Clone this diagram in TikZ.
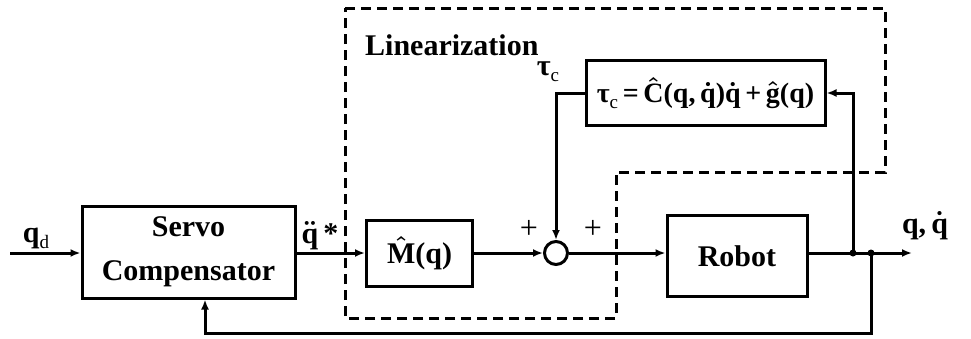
\documentclass[tikz,border=0pt]{standalone}
\usepackage{fontspec}
\setmainfont{Liberation Serif}
\usepackage{tikz}
\usetikzlibrary{arrows.meta}
\newcommand{\lowsub}[1]{\raisebox{-0.45ex}{\mdseries\fontsize{9.5}{10}\selectfont #1}}
\newcommand{\vdot}[1]{\ensuremath{\dot{\mbox{#1}}}}
\newcommand{\vddot}[1]{\ensuremath{\ddot{\mbox{#1}}}}
\newcommand{\vhat}[1]{\ensuremath{\hat{\mbox{#1}}}}

\begin{document}
\begin{tikzpicture}[x=0.5pt, y=-0.5pt, line width=1.5pt, >={Latex[length=5pt,width=4pt]},
    every node/.style={font=\bfseries\boldmath\fontsize{15}{22}\selectfont},
    block/.style={draw, align=center, inner sep=0pt},
    sumnode/.style={draw, circle, minimum size=11.5pt, inner sep=0pt},
    splitdot/.style={fill, circle, minimum size=3.5pt, inner sep=0pt},
    region/.style={dash pattern=on 5pt off 3pt}]
    \useasboundingbox (0,0) rectangle (971,338);
    \node[block, minimum width=106.5pt, minimum height=46pt] (servo) at (188.5,252) {Servo\\Compensator};
    \node[block, minimum width=53pt, minimum height=33pt] (mhat) at (419.5,253) {\vhat{M}(q)};
    \node[sumnode] (sum) at (556,253) {};
    \node[block, minimum width=70pt, minimum height=40.5pt] (robot) at (737,256) {Robot};
    \node[block, minimum width=119.5pt, minimum height=32.5pt, font=\bfseries\boldmath\fontsize{14}{16}\selectfont] (taubox) at (705.5,93) {τ\lowsub{c}\,=\,\vhat{C}(q,\,\vdot{q})\vdot{q}\,+\,\vhat{g}(q)};
    \coordinate (input) at (10,253);
    \coordinate (split1) at (853,253);
    \coordinate (split2) at (871,253);
    \coordinate (output) at (912,253);
    \coordinate (fbcorner) at (205,333);
    \draw[->] (input) -- (input -| servo.west);
    \draw[->] (servo.east |- sum) -- (mhat.west);
    \draw[->] (mhat.east) -- (sum.west);
    \draw[->] (sum.east) -- (sum -| robot.west);
    \draw[->] (sum -| robot.east) -- (output);
    \draw[->] (split1) |- (taubox.east);
    \draw[->] (taubox.west) -| (sum.north);
    \draw[->] (split2) |- (fbcorner) -- (fbcorner |- servo.south);
    \node[splitdot] (dot1) at (split1) {};
    \node[splitdot] (dot2) at (split2) {};
    \node (qdlabel) at (36,238) {q\lowsub{d}};
    \node (qddlabel) at (320,236) {\vddot{q}\,*};
    \node (taulabel) at (548,72) {τ\lowsub{c}};
    \node[font=\fontsize{16}{16}\selectfont] (plus1) at (529,229) {+};
    \node[font=\fontsize{16}{16}\selectfont] (plus2) at (593,229) {+};
    \node (outlabel) at (925,226) {q,\,\vdot{q}};
    \node[anchor=west] (linlabel) at (357,45) {Linearization};
    \draw[region] (345,8) -- (885,8) -- (885,172) -- (616,172) -- (616,318) -- (345,318) -- cycle;
\end{tikzpicture}
\end{document}
